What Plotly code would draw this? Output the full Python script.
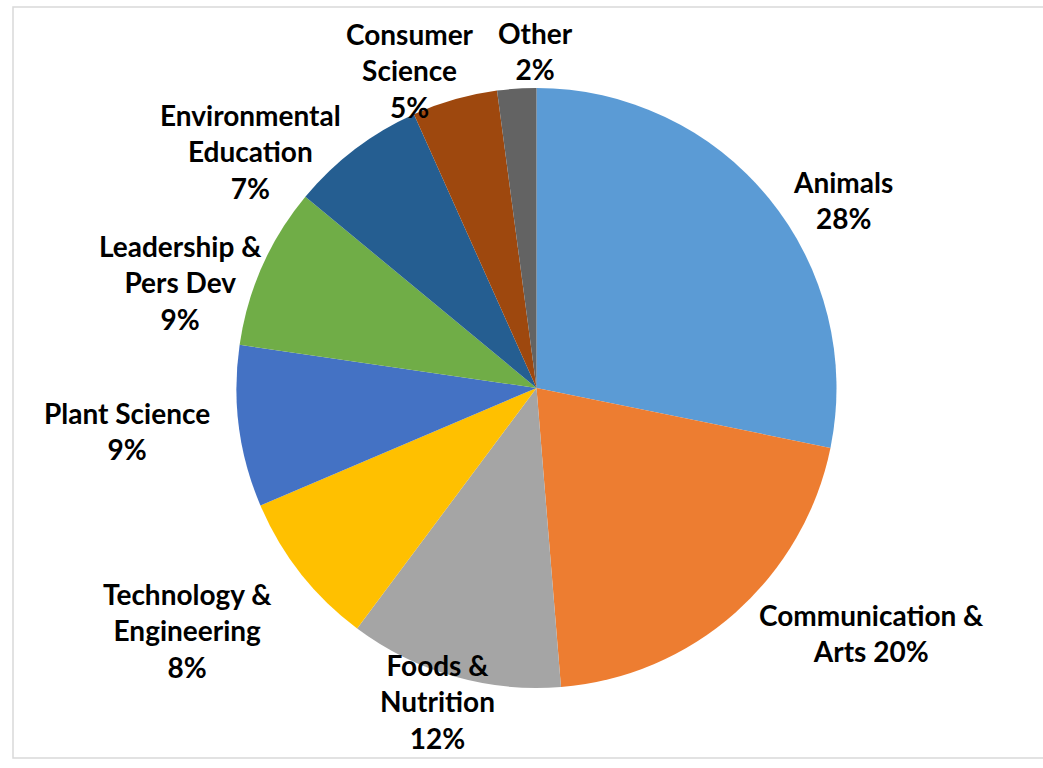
import plotly.graph_objects as go

categories = ["Animals", "Communication & Arts", "Foods & Nutrition",
              "Technology & Engineering", "Plant Science", "Leadership & Pers Dev",
              "Environmental Education", "Consumer Science", "Other"]
values = [28.2, 20.5, 11.5, 8.4, 8.7, 8.7, 7.3, 4.6, 2.1]
label_lines = [["Animals"], ["Communication &", "Arts"], ["Foods &", "Nutrition"],
               ["Technology &", "Engineering"], ["Plant Science"],
               ["Leadership &", "Pers Dev"], ["Environmental", "Education"],
               ["Consumer", "Science"], ["Other"]]
colors = ["#5B9BD5", "#ED7D31", "#A5A5A5", "#FFC000", "#4472C4",
          "#70AD47", "#255E91", "#9E480E", "#636363"]

# label centre positions in pixels (layout only)
label_pos = [(843, 200), (871, 633), (437, 701), (187, 630), (127, 431),
             (180, 283), (250, 152), (410, 70), (535, 51)]

W, H = 1043, 768
cx, cy, R = 536.5, 388, 300

fig = go.Figure(go.Pie(
    labels=categories, values=values, sort=False, direction="clockwise",
    rotation=0, marker=dict(colors=colors, line=dict(width=0)),
    textinfo="none", hoverinfo="label+percent", showlegend=False,
    domain=dict(x=[(cx - R) / W, (cx + R) / W], y=[1 - (cy + R) / H, 1 - (cy - R) / H]),
))

total = sum(values)
for lines, v, (px, py) in zip(label_lines, values, label_pos):
    pct = f"{round(v / total * 100)}%"
    if lines[-1] == "Arts":
        txt = lines[:-1] + [lines[-1] + " " + pct]
    else:
        txt = lines + [pct]
    fig.add_annotation(
        x=px / W, y=1 - py / H, xref="paper", yref="paper",
        text="<br>".join(f"<b>{t}</b>" for t in txt), showarrow=False,
        xanchor="center", yanchor="middle", align="center",
        font=dict(family="Lato", size=28, color="#000000"),
    )

fig.add_shape(type="rect", xref="paper", yref="paper",
              x0=13 / W, x1=1.05, y0=1 - 758 / H, y1=1 - 7 / H,
              line=dict(color="#D9D9D9", width=1.5), fillcolor="rgba(0,0,0,0)")

fig.update_layout(width=W, height=H, margin=dict(l=0, r=0, t=0, b=0),
                  paper_bgcolor="white", plot_bgcolor="white")
fig.write_html("out.html")
